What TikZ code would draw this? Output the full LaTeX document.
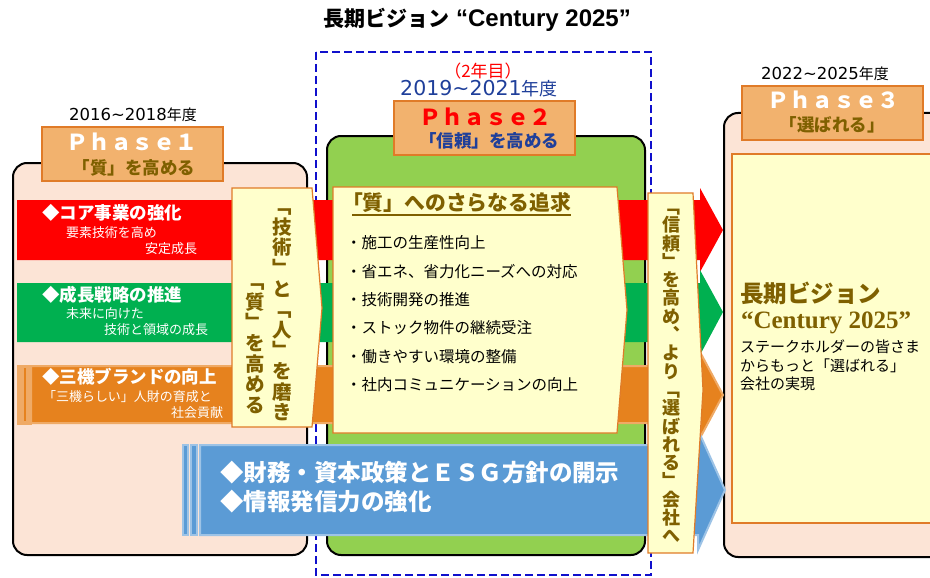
\documentclass[tikz,border=0pt]{standalone}
\usepackage{fontspec}
\setmainfont{Noto Sans CJK JP}
\newfontfamily\lat{Liberation Sans}
\newfontfamily\dv{DejaVu Sans}
\newfontfamily\ser{Liberation Serif}
\newcommand\fs[1]{\fontsize{#1}{#1}\selectfont}
\newcommand\vfs[2]{\fontsize{#1}{#2}\selectfont}
\newcommand\tld{\char"7E\relax}
\definecolor{peach}{HTML}{FCE4D6}
\definecolor{lgreen}{HTML}{92D050}
\definecolor{yel}{HTML}{FFFFCC}
\definecolor{labfill}{HTML}{F2B26E}
\definecolor{labedge}{HTML}{E07B28}
\definecolor{olive}{HTML}{7F6000}
\definecolor{bred}{HTML}{FF0000}
\definecolor{bgreen}{HTML}{00B050}
\definecolor{borange}{HTML}{E6821E}
\definecolor{lorange}{HTML}{EFAA66}
\definecolor{bblue}{HTML}{5B9BD5}
\definecolor{lblue}{HTML}{9DC3E6}
\definecolor{dblue}{HTML}{1F3F9A}
\definecolor{dashblue}{HTML}{1010CC}
\begin{document}
\begin{tikzpicture}[x=1pt,y=-1pt,
  txt/.style={inner sep=0pt, outer sep=0pt},
  bigbox/.style={draw=black, line width=2pt, rounded corners=14pt},
  phaselab/.style={fill=labfill, draw=labedge, line width=1.2pt, inner sep=0pt, minimum width=181pt, minimum height=54pt},
  yelbox/.style={fill=yel, draw=labedge, line width=1.2pt},
  bandhead/.style={font=\bfseries\fs{17.5}, white, txt, anchor=west},
  bandsub/.style={font=\fs{13}, white, txt, anchor=west},
  bullet/.style={font=\fs{15.5}, black, txt, anchor=west},
  vtext/.style={txt, olive, align=center, anchor=north, font=\bfseries}]
\useasboundingbox (0,0) rectangle (930,578);
\clip (0,0) rectangle (930,578);

% title
\node[txt, font=\bfseries] (title) at (477,20) {{\fs{21}長期ビジョン}\hspace{7pt}{\lat\fs{24}“Century 2025”}};

% dashed frame
\draw[dashblue, line width=2.2pt, dash pattern=on 8pt off 4pt] (316,52) rectangle (651,575);

% big boxes
\draw[bigbox, fill=peach] (13,163) rectangle (307,555);
\draw[bigbox, fill=lgreen] (327,136) rectangle (645,555);
\draw[bigbox, fill=peach] (724,113) rectangle (990,557);
\draw[fill=yel, draw=labedge, line width=1.2pt] (732,154) rectangle (990,523);

% bands
\fill[bred] (17,200) -- (700,200) -- (700,188) -- (723,230) -- (700,272) -- (700,260) -- (17,260) -- cycle;
\fill[bgreen] (17,283) -- (700,283) -- (700,270) -- (723,312) -- (700,355) -- (700,342) -- (17,342) -- cycle;
\filldraw[fill=borange, draw=lorange, line width=2pt] (31,366) -- (700,366) -- (700,352) -- (723,395) -- (700,438) -- (700,423) -- (31,423) -- cycle;
\filldraw[fill=lorange, draw=lorange, line width=1pt] (17,365) rectangle (31,424);
\draw[borange, line width=1.2pt] (25,368) -- (25,421);
\filldraw[fill=bblue, draw=lblue, line width=2pt] (200,445) -- (698,445) -- (698,430) -- (725,490) -- (698,550) -- (698,535) -- (200,535) -- cycle;
\filldraw[fill=bblue, draw=lblue, line width=1.5pt] (183,445) rectangle (188,535);
\filldraw[fill=bblue, draw=lblue, line width=1.5pt] (191,445) rectangle (197,535);

% yellow boxes
\filldraw[yelbox] (232,188) -- (312,188) -- (322,308) -- (312,427) -- (232,427) -- cycle;
\filldraw[yelbox] (333,187) -- (617,187) -- (627,310) -- (617,433) -- (333,433) -- cycle;
\filldraw[yelbox] (648,193) -- (693,193) -- (703,390) -- (693,553) -- (648,553) -- cycle;

% phase labels
\node[phaselab] (p1) at (132.5,154) {};
\node[phaselab] (p2) at (484.5,128) {};
\node[phaselab] (p3) at (832.5,113) {};
\node[txt, white, font=\bfseries\fs{22}] (p1a) at (132,142) {Ｐｈａｓｅ１};
\node[txt, olive, font=\bfseries\fs{17.5}] (p1b) at (134,168) {「質」を高める};
\node[txt, bred, font=\bfseries\fs{22}] (p2a) at (485,117) {Ｐｈａｓｅ２};
\node[txt, dblue, font=\bfseries\fs{17.5}] (p2b) at (489,141) {「信頼」を高める};
\node[txt, white, font=\bfseries\fs{22}] (p3a) at (833,100) {Ｐｈａｓｅ３};
\node[txt, olive, font=\bfseries\fs{17.5}] (p3b) at (832,125) {「選ばれる」};

% years
\node[txt] (y1) at (133,115) {{\dv\fs{16.5}2016\tld 2018}{\fs{15}年度}};
\node[txt, bred] (y2a) at (483,71) {\fs{17}（2年目）};
\node[txt, dblue] (y2) at (479,89) {{\dv\fs{20.5}2019\tld 2021}{\fs{18}年度}};
\node[txt] (y3) at (825,74) {{\dv\fs{16.5}2022\tld 2025}{\fs{15}年度}};

% left band texts
\node[bandhead] (h1) at (42,213) {◆コア事業の強化};
\node[bandsub] (s1a) at (66,233) {要素技術を高め};
\node[bandsub] (s1b) at (145,249) {安定成長};
\node[bandhead] (h2) at (42,295) {◆成長戦略の推進};
\node[bandsub] (s2a) at (66,314) {未来に向けた};
\node[bandsub] (s2b) at (104,330) {技術と領域の成長};
\node[bandhead] (h3) at (42,377) {◆三機ブランドの向上};
\node[bandsub] (s3a) at (43,397) {「三機らしい」人財の育成と};
\node[bandsub] (s3b) at (171,413) {社会貢献};

% left vertical text
\node[vtext, font=\bfseries\vfs{19.5}{20.6}] (v1) at (282,209) {﹁\\技\\術\\﹂\\と\\﹁\\人\\﹂\\を\\磨\\き};
\node[vtext, font=\bfseries\vfs{19.5}{20.6}] (v2) at (255,284) {﹁\\質\\﹂\\を\\高\\め\\る};

% center texts
\node[txt, olive, anchor=west, font=\bfseries\fs{20.8}] (ch) at (342,203) {「質」へのさらなる追求};
\draw[olive, line width=1.3pt] ([xshift=10pt,yshift=-2pt]ch.south west) -- ([yshift=-2pt]ch.south east);
\node[bullet] (b1) at (346,243) {・施工の生産性向上};
\node[bullet] (b2) at (346,272) {・省エネ、省力化ニーズへの対応};
\node[bullet] (b3) at (346,300) {・技術開発の推進};
\node[bullet] (b4) at (346,328) {・ストック物件の継続受注};
\node[bullet] (b5) at (346,357) {・働きやすい環境の整備};
\node[bullet] (b6) at (346,385) {・社内コミュニケーションの向上};

% blue band text
\node[txt, white, anchor=west, font=\bfseries\fs{23.5}] (bl1) at (220,473) {◆財務・資本政策とＥＳＧ方針の開示};
\node[txt, white, anchor=west, font=\bfseries\fs{23.5}] (bl2) at (220,502) {◆情報発信力の強化};

% right vertical text
\node[vtext, font=\bfseries\vfs{18}{18.3}] (v3) at (671,209) {﹁\\信\\頼\\﹂\\を\\高\\め\\︑\\よ\\り\\﹁\\選\\ば\\れ\\る\\﹂\\会\\社\\へ};

% right box texts
\node[txt, olive, anchor=west, font=\bfseries\fs{23.5}] (r1) at (740,293) {長期ビジョン};
\node[txt, olive, anchor=west, font=\ser\bfseries\fs{25}] (r2) at (741,323) {“Century 2025”};
\node[txt, anchor=west, font=\fs{15}] (r3) at (740,347) {ステークホルダーの皆さま};
\node[txt, anchor=west, font=\fs{15}] (r4) at (740,366) {からもっと「選ばれる」};
\node[txt, anchor=west, font=\fs{15}] (r5) at (740,384) {会社の実現};
\end{tikzpicture}
\end{document}
